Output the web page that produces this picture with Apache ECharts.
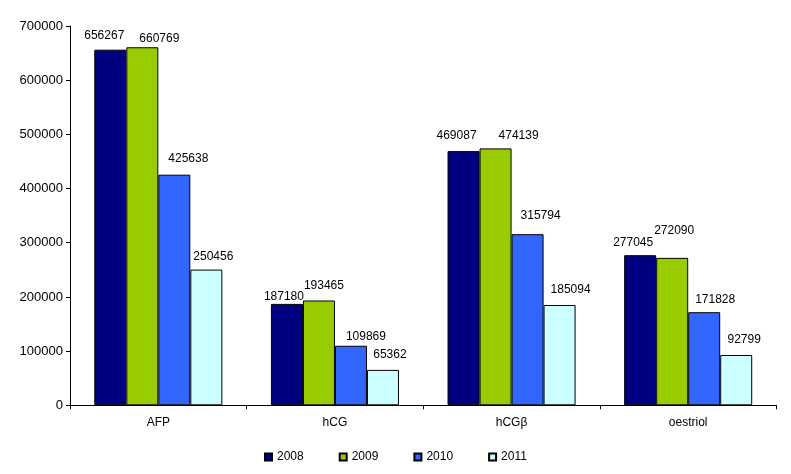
<!DOCTYPE html>
<html>
<head>
<meta charset="utf-8">
<script src="https://cdn.jsdelivr.net/npm/echarts@6/dist/echarts.min.js"></script>
<style>
html,body{margin:0;padding:0;background:#fff;}
#c{width:791px;height:474px;}
</style>
</head>
<body>
<div id="c"></div>
<script>
// ---- data ----
var categories = ['AFP', 'hCG', 'hCGβ', 'oestriol'];
var years = ['2008', '2009', '2010', '2011'];
var v2008 = [656267, 187180, 469087, 277045];
var v2009 = [660769, 193465, 474139, 272090];
var v2010 = [425638, 109869, 315794, 171828];
var v2011 = [250456, 65362, 185094, 92799];

// ---- layout / style (not data) ----
var colors = ['#000080', '#99CC00', '#3366FF', '#CCFFFF'];
// label nudges [dx, dy] per series, per category (labels were hand-placed in the original)
var labelNudges = [
  [[-6, -3], [-3, 4], [-7, -4], [-7, -1]],
  [[17, 2], [5, -4], [23, -2], [2, -16]],
  [[14, -5], [15, 2], [13, -7], [11, -2]],
  [[7, -2], [7, -4], [11, -4], [8, -4]]
];

var seriesValues = [v2008, v2009, v2010, v2011];
var FONT = '"Liberation Sans", Arial, sans-serif';

var series = seriesValues.map(function (vals, si) {
  return {
    name: years[si],
    type: 'bar',
    barGap: '0%',
    barCategoryGap: '27.5%',
    itemStyle: { color: colors[si], borderColor: '#000', borderWidth: 1 },
    label: { show: false },
    emphasis: { disabled: true },
    data: vals.map(function (v, ci) {
      return {
        value: v,
        label: {
          show: true,
          position: 'top',
          distance: 5,
          offset: labelNudges[si][ci],
          color: '#000',
          fontFamily: FONT,
          fontSize: 12
        }
      };
    })
  };
});

var chart = echarts.init(document.getElementById('c'), null, { renderer: 'canvas' });
chart.setOption({
  animation: false,
  backgroundColor: '#fff',
  grid: { left: 70, right: 14.5, top: 26, bottom: 68.7, containLabel: false },
  legend: {
    data: years,
    left: 259,
    top: 446,
    itemWidth: 7,
    itemHeight: 7,
    itemGap: 35,
    icon: 'rect',
    textStyle: { color: '#000', fontFamily: FONT, fontSize: 12 }
  },
  xAxis: {
    type: 'category',
    data: categories,
    boundaryGap: true,
    axisLine: { lineStyle: { color: '#000', width: 1 } },
    axisTick: { show: true, length: 4, lineStyle: { color: '#000' } },
    axisLabel: { color: '#000', fontFamily: FONT, fontSize: 12, margin: 11 },
    splitLine: { show: false }
  },
  yAxis: {
    type: 'value',
    min: 0,
    max: 700000,
    interval: 100000,
    axisLine: { show: true, lineStyle: { color: '#000', width: 1 } },
    axisTick: { show: true, length: 4, lineStyle: { color: '#000' } },
    axisLabel: {
      color: '#000', fontFamily: FONT, fontSize: 13, margin: 7,
      formatter: function (v) { return String(v); }
    },
    splitLine: { show: false }
  },
  series: series
});
</script>
</body>
</html>
